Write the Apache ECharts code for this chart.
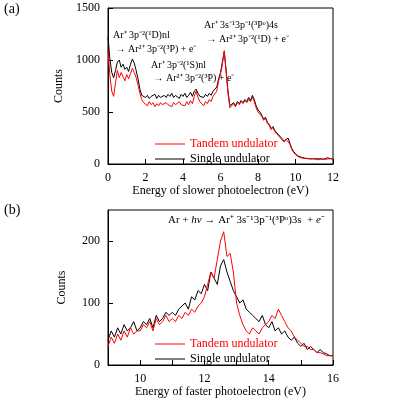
<!DOCTYPE html>
<html>
<head>
<meta charset="utf-8">
<script src="https://cdn.jsdelivr.net/npm/echarts@6/dist/echarts.min.js"></script>
<style>html,body{margin:0;padding:0;background:#fff}#c{width:400px;height:400px}</style>
</head>
<body>
<div id="c"></div>
<script>
// panel (a): slower photoelectron, 0..12 eV step 0.1
var slowSingle = [1220,1010,880,830,900,980,1000,930,960,910,
930,890,960,1010,970,900,820,720,660,650,
640,660,630,650,640,670,630,660,640,650,
660,640,670,650,680,640,660,650,630,670,
650,680,640,660,690,650,700,720,680,650,
660,640,670,650,680,660,700,690,740,820,
880,980,1080,900,700,560,570,590,560,600,
580,610,590,620,600,640,610,660,620,560,
520,500,470,430,450,400,380,340,360,320,
300,280,260,240,220,230,250,200,150,120,
100,80,70,65,60,55,60,50,55,50,
55,50,45,50,55,45,50,60,55,50,55];
var slowTandem = [1100,850,700,650,780,900,830,880,840,800,
860,820,870,920,880,830,760,680,620,590,
580,560,600,570,590,550,580,560,590,570,
560,590,570,580,550,590,570,560,600,570,
580,560,600,570,610,580,650,700,640,600,
590,560,600,580,620,600,650,640,700,800,
860,960,1090,880,680,540,560,580,550,590,
570,600,580,610,590,620,600,640,600,540,
500,490,460,420,440,390,370,330,350,310,
290,270,250,230,210,240,250,190,140,110,
90,75,65,60,55,50,55,45,50,45,
50,45,40,45,50,40,45,55,50,45,50];
// panel (b): faster photoelectron, 9..16 eV step 0.1
var fastSingle = [40,55,45,60,50,65,55,60,70,55,
60,70,65,75,60,80,70,75,85,80,
85,80,90,95,100,90,110,105,120,115,
130,120,150,140,130,160,170,150,135,120,
110,100,105,90,85,80,75,70,80,65,
60,70,55,60,50,55,45,40,45,35,
30,35,25,30,25,20,25,20,18,15,15];
var fastTandem = [30,45,35,50,40,55,45,60,50,55,
55,65,60,70,55,75,65,70,80,70,
75,70,80,75,85,80,90,85,95,100,
110,130,150,140,170,200,215,175,180,150,
100,80,65,55,50,60,55,50,60,65,
70,80,75,90,80,70,60,55,45,40,
35,30,30,25,25,20,20,18,15,15,15];

function pairs(x0, ys) {
	return ys.map(function (v, i) { return [+(x0 + i * 0.1).toFixed(1), v]; });
}

var font = 'Liberation Serif';
var labelStyle = {color: '#000', fontFamily: font, fontSize: 12, formatter: function (v) { return String(v); }};
var axisBase = {
	axisLine: {lineStyle: {color: '#000'}},
	axisTick: {inside: true, lineStyle: {color: '#000'}},
	axisLabel: labelStyle,
	splitLine: {show: false},
	nameTextStyle: {color: '#000', fontFamily: font, fontSize: 12}
};
function ax(o) { return Object.assign({}, axisBase, o); }

var chart = echarts.init(document.getElementById('c'));
chart.setOption({
	animation: false,
	textStyle: {fontFamily: font},
	grid: [
		{left: 108, width: 225, top: 8, height: 156, show: true, borderColor: '#000', borderWidth: 1},
		{left: 108, width: 225, top: 210, height: 155, show: true, borderColor: '#000', borderWidth: 1}
	],
	xAxis: [
		ax({type: 'value', gridIndex: 0, min: 0, max: 12, interval: 2, name: 'Energy of slower photoelectron (eV)', nameLocation: 'middle', nameGap: 20}),
		ax({type: 'value', gridIndex: 1, min: 9, max: 16, interval: 1, name: 'Energy of faster photoelectron (eV)', nameLocation: 'middle', nameGap: 20,
			axisLabel: Object.assign({}, labelStyle, {formatter: function (v) { return v % 2 === 0 ? String(v) : ''; }})})
	],
	yAxis: [
		ax({type: 'value', gridIndex: 0, min: 0, max: 1500, interval: 500, name: 'Counts', nameLocation: 'middle', nameGap: 40}),
		ax({type: 'value', gridIndex: 1, min: 0, max: 250, interval: 100, name: 'Counts', nameLocation: 'middle', nameGap: 40,
			axisLabel: Object.assign({}, labelStyle, {showMaxLabel: false})})
	],
	legend: [
		{left: 150, top: 133, orient: 'vertical', itemGap: 3, itemWidth: 30, itemHeight: 1, icon: 'rect',
			data: [{name: 'Tandem undulator', textStyle: {color: '#f00'}}, {name: 'Single undulator', textStyle: {color: '#000'}}],
			textStyle: {fontFamily: font, fontSize: 12}},
		{left: 150, top: 333, orient: 'vertical', itemGap: 3, itemWidth: 30, itemHeight: 1, icon: 'rect',
			data: [{name: 'Tandem undulator ', textStyle: {color: '#f00'}}, {name: 'Single undulator ', textStyle: {color: '#000'}}],
			textStyle: {fontFamily: font, fontSize: 12}}
	],
	series: [
		{name: 'Single undulator', type: 'line', xAxisIndex: 0, yAxisIndex: 0, data: pairs(0, slowSingle), showSymbol: false, lineStyle: {color: '#000', width: 1}, itemStyle: {color: '#000'}},
		{name: 'Tandem undulator', type: 'line', xAxisIndex: 0, yAxisIndex: 0, data: pairs(0, slowTandem), showSymbol: false, lineStyle: {color: '#f00', width: 1}, itemStyle: {color: '#f00'}},
		{name: 'Single undulator ', type: 'line', xAxisIndex: 1, yAxisIndex: 1, data: pairs(9, fastSingle), showSymbol: false, lineStyle: {color: '#000', width: 1}, itemStyle: {color: '#000'}},
		{name: 'Tandem undulator ', type: 'line', xAxisIndex: 1, yAxisIndex: 1, data: pairs(9, fastTandem), showSymbol: false, lineStyle: {color: '#f00', width: 1}, itemStyle: {color: '#f00'}}
	],
	graphic: [
		{type: 'text', left: 4, top: 2, style: {text: '(a)', font: '14px ' + font, fill: '#000'}},
		{type: 'text', left: 4, top: 203, style: {text: '(b)', font: '14px ' + font, fill: '#000'}},
		{type: 'text', left: 113, top: 28, style: {text: 'Ar⁺ 3p⁻²(¹D)nl\n → Ar²⁺ 3p⁻²(³P) + e⁻', font: '10px ' + font, fill: '#000', lineHeight: 14}},
		{type: 'text', left: 151, top: 59, style: {text: 'Ar⁺ 3p⁻²(¹S)nl\n → Ar²⁺ 3p⁻²(³P) + e⁻', font: '10px ' + font, fill: '#000', lineHeight: 13}},
		{type: 'text', left: 204, top: 18, style: {text: 'Ar⁺ 3s⁻¹3p⁻¹(³Pᵒ)4s\n → Ar²⁺ 3p⁻²(¹D) + e⁻', font: '10px ' + font, fill: '#000', lineHeight: 14}},
		{type: 'text', left: 168, top: 215, style: {rich: {n: {font: '11px ' + font, fill: '#000'}, i: {font: 'italic 11px ' + font, fill: '#000'}},
			text: '{n|Ar + }{i|hν}{n| → Ar⁺ 3s⁻¹3p⁻¹(³Pᵒ)3s  + }{i|e}{n|⁻}'}}
	]
});
</script>
</body>
</html>
